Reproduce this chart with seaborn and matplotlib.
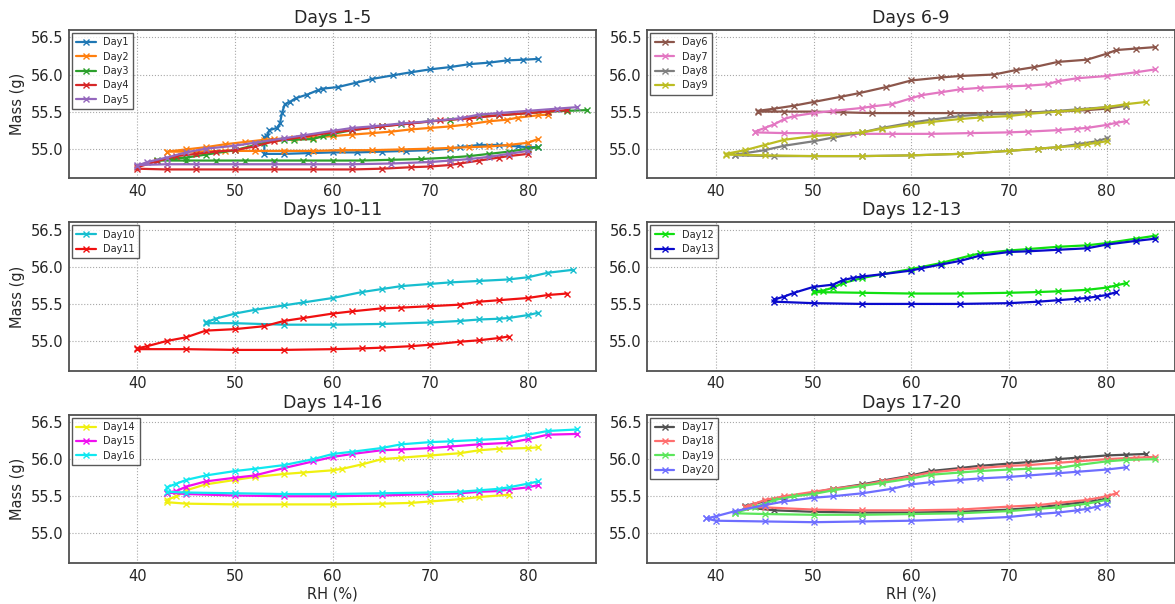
import numpy as np
import pandas as pd
import matplotlib
matplotlib.use("Agg")
import matplotlib.pyplot as plt
import seaborn as sns

# ---------------- data (each day: descending-RH branch, then ascending-RH branch) ----------------
day1_rh = [81, 79.5, 77.8, 76, 74, 72, 70, 68, 66.2, 64, 62.4, 60.5, 59, 58.5, 57.4, 56.2, 55.6, 55.1, 54.8, 54.6, 54.3, 53.5, 53.3, 53,
           53, 55, 57.5, 60, 62.5, 65, 67.5, 70, 72, 73, 75, 77, 79, 80, 81]
day1_mass = [56.21, 56.2, 56.19, 56.16, 56.14, 56.1, 56.07, 56.03, 55.99, 55.94, 55.89, 55.83, 55.81, 55.79, 55.73, 55.68, 55.63, 55.60, 55.48, 55.34, 55.28, 55.25, 55.17, 55.16,
             54.93, 54.93, 54.94, 54.95, 54.95, 54.96, 54.97, 54.98, 55.0, 55.02, 55.05, 55.05, 55.03, 55.02, 55.02]
day2_rh = [82, 81, 79, 77.8, 76, 74, 72, 70, 68, 66, 64, 62, 60, 58, 56, 54, 53, 51, 49, 47, 45, 43,
           43, 46, 49, 52, 55, 58, 61, 64, 67, 70, 72, 74, 76, 78, 80, 81]
day2_mass = [55.46, 55.45, 55.42, 55.39, 55.37, 55.33, 55.3, 55.28, 55.26, 55.23, 55.21, 55.19, 55.17, 55.15, 55.14, 55.13, 55.12, 55.09, 55.06, 55.02, 54.99, 54.96,
             54.96, 54.96, 54.97, 54.97, 54.97, 54.97, 54.98, 54.98, 54.99, 55.0, 55.01, 55.02, 55.03, 55.05, 55.08, 55.13]
day3_rh = [86, 84, 82, 80, 77, 75, 72, 70, 67, 65, 62, 60, 59, 58, 56, 55, 53, 50, 47, 45, 42,
           42, 45, 48, 51, 54, 57, 60, 63, 66, 69, 72, 74, 76, 78, 80, 81]
day3_mass = [55.52, 55.51, 55.5, 55.48, 55.45, 55.43, 55.39, 55.37, 55.33, 55.3, 55.25, 55.2, 55.17, 55.13, 55.12, 55.12, 55.08, 54.98, 54.92, 54.88, 54.85,
             54.84, 54.84, 54.84, 54.84, 54.84, 54.84, 54.84, 54.84, 54.85, 54.86, 54.88, 54.9, 54.93, 54.96, 55.0, 55.02]
day4_rh = [84, 82, 80, 77, 74, 71, 68, 65, 62, 60, 57, 54, 52, 50, 48, 46, 44, 42, 40,
           40, 43, 46, 50, 54, 58, 62, 65, 68, 70, 72, 73, 75, 77, 78, 80]
day4_mass = [55.52, 55.5, 55.48, 55.45, 55.41, 55.38, 55.34, 55.3, 55.25, 55.22, 55.16, 55.1, 55.03, 54.98, 54.96, 54.93, 54.9, 54.83, 54.75,
             54.73, 54.72, 54.72, 54.72, 54.72, 54.72, 54.72, 54.73, 54.75, 54.76, 54.78, 54.8, 54.84, 54.88, 54.9, 54.93]
day5_rh = [85, 83, 80, 77, 75, 73, 70, 67, 64, 62, 60, 57, 55, 52, 50, 47, 45, 43, 41, 40,
           40, 43, 46, 50, 54, 58, 62, 66, 70, 72, 74, 76, 78, 80]
day5_mass = [55.56, 55.54, 55.51, 55.48, 55.46, 55.41, 55.37, 55.34, 55.3, 55.28, 55.24, 55.18, 55.14, 55.08, 55.04, 55.0, 54.95, 54.88, 54.82, 54.77,
             54.78, 54.79, 54.79, 54.79, 54.79, 54.79, 54.79, 54.8, 54.82, 54.84, 54.86, 54.89, 54.93, 54.97]

day6_rh = [85, 83, 81, 80, 78, 75, 72.6, 70.7, 68.5, 65, 63, 60, 57.4, 54.7, 52.8, 50, 48, 46, 44.3,
           44.3, 47, 50, 53, 56, 60, 64, 68, 72, 75, 78, 80, 82]
day6_mass = [56.37, 56.35, 56.33, 56.28, 56.2, 56.17, 56.1, 56.06, 56.0, 55.98, 55.96, 55.92, 55.83, 55.75, 55.7, 55.63, 55.58, 55.54, 55.51,
             55.5, 55.5, 55.5, 55.49, 55.48, 55.48, 55.48, 55.48, 55.49, 55.5, 55.52, 55.54, 55.58]
day7_rh = [85, 83, 80, 77, 75, 74, 72, 70, 67, 65, 63, 61, 60, 58, 56, 55, 52, 50, 48, 47, 46, 45, 44,
           44, 47, 50, 54, 58, 62, 66, 70, 72, 75, 77, 78, 80, 81, 82]
day7_mass = [56.07, 56.03, 55.98, 55.95, 55.91, 55.87, 55.85, 55.84, 55.82, 55.8, 55.76, 55.72, 55.68, 55.6, 55.57, 55.55, 55.51, 55.48, 55.44, 55.4, 55.33, 55.28, 55.23,
             55.22, 55.21, 55.21, 55.2, 55.2, 55.2, 55.21, 55.22, 55.23, 55.25, 55.27, 55.28, 55.32, 55.35, 55.37]
day8_rh = [82, 80, 77, 74, 70, 67, 65, 62, 60, 57, 55, 52, 50, 47, 45, 43, 42,
           42, 46, 50, 55, 60, 65, 70, 73, 75, 77, 79, 80]
day8_mass = [55.58, 55.56, 55.53, 55.5, 55.47, 55.46, 55.44, 55.39, 55.35, 55.28, 55.22, 55.15, 55.1, 55.04, 54.98, 54.94, 54.92,
             54.91, 54.9, 54.9, 54.9, 54.91, 54.93, 54.97, 55.0, 55.02, 55.06, 55.1, 55.14]
day9_rh = [84, 82, 80, 77, 75, 72, 70, 67, 65, 62, 60, 57, 55, 52, 50, 47, 45, 43, 41,
           41, 45, 50, 55, 60, 65, 70, 73, 75, 77, 78, 79, 80]
day9_mass = [55.63, 55.6, 55.56, 55.52, 55.5, 55.47, 55.44, 55.42, 55.4, 55.36, 55.33, 55.27, 55.22, 55.19, 55.17, 55.12, 55.05, 54.98, 54.93,
             54.92, 54.91, 54.9, 54.9, 54.91, 54.93, 54.97, 55.0, 55.02, 55.04, 55.06, 55.08, 55.1]

day10_rh = [84.6, 82, 80, 78, 75, 72, 70, 67, 65, 63, 60, 57, 55, 52, 50, 48, 47,
            47, 50, 55, 60, 65, 70, 73, 75, 77, 78, 80, 81]
day10_mass = [55.96, 55.92, 55.86, 55.83, 55.81, 55.79, 55.77, 55.74, 55.7, 55.66, 55.58, 55.52, 55.48, 55.42, 55.37, 55.3, 55.25,
              55.24, 55.24, 55.22, 55.22, 55.23, 55.25, 55.27, 55.29, 55.3, 55.31, 55.35, 55.38]
day11_rh = [84, 82, 80, 77, 75, 73, 70, 67, 65, 62, 60, 57, 55, 53, 50, 47, 45, 43, 41, 40,
            40, 45, 50, 55, 60, 63, 65, 68, 70, 73, 75, 77, 78]
day11_mass = [55.64, 55.62, 55.58, 55.55, 55.53, 55.49, 55.47, 55.45, 55.44, 55.4, 55.37, 55.31, 55.27, 55.2, 55.16, 55.14, 55.05, 55.0, 54.93, 54.9,
              54.89, 54.89, 54.88, 54.88, 54.89, 54.9, 54.91, 54.93, 54.95, 54.99, 55.01, 55.04, 55.06]

day12_rh = [85, 83, 80, 78, 75, 72, 70, 67, 66, 63, 60, 57, 55, 53, 52, 51, 50,
            50, 55, 60, 65, 70, 73, 75, 78, 80, 81, 82]
day12_mass = [56.42, 56.38, 56.32, 56.29, 56.27, 56.24, 56.22, 56.18, 56.15, 56.05, 55.97, 55.9, 55.85, 55.78, 55.72, 55.68, 55.67,
              55.66, 55.65, 55.64, 55.64, 55.65, 55.66, 55.67, 55.69, 55.72, 55.75, 55.78]
day13_rh = [85, 83, 80, 78, 75, 72, 70, 67, 65, 63, 61, 60, 57, 55, 54, 53, 52, 50, 48, 47, 46,
            46, 50, 55, 60, 65, 70, 73, 75, 77, 78, 79, 80, 81]
day13_mass = [56.38, 56.35, 56.3, 56.25, 56.23, 56.21, 56.2, 56.15, 56.08, 56.03, 55.98, 55.95, 55.9, 55.87, 55.85, 55.82, 55.76, 55.73, 55.65, 55.6, 55.56,
              55.53, 55.51, 55.5, 55.5, 55.5, 55.51, 55.53, 55.55, 55.57, 55.58, 55.6, 55.62, 55.66]

day14_rh = [81, 80, 77, 75, 73, 70, 67, 65, 63, 61, 60, 57, 55, 52, 50, 47, 45, 44, 43,
            43, 45, 50, 55, 60, 65, 68, 70, 73, 75, 78]
day14_mass = [56.16, 56.15, 56.14, 56.12, 56.08, 56.05, 56.02, 56.0, 55.93, 55.87, 55.85, 55.82, 55.8, 55.76, 55.72, 55.66, 55.58, 55.5, 55.45,
              55.42, 55.4, 55.39, 55.39, 55.39, 55.4, 55.41, 55.43, 55.46, 55.49, 55.52]
day15_rh = [85, 82, 80, 78, 75, 72, 70, 67, 65, 62, 60, 58, 55, 52, 50, 47, 45, 44, 43,
            43, 45, 50, 55, 60, 65, 70, 73, 75, 77, 78, 80, 81]
day15_mass = [56.34, 56.33, 56.27, 56.22, 56.2, 56.17, 56.15, 56.13, 56.12, 56.07, 56.03, 55.97, 55.88, 55.78, 55.75, 55.7, 55.63, 55.57, 55.55,
              55.55, 55.53, 55.51, 55.5, 55.5, 55.51, 55.53, 55.54, 55.56, 55.57, 55.59, 55.62, 55.65]
day16_rh = [85, 82, 80, 78, 75, 72, 70, 67, 65, 62, 60, 58, 55, 52, 50, 47, 45, 44, 43,
            43, 45, 50, 55, 60, 65, 70, 73, 75, 77, 78, 80, 81]
day16_mass = [56.4, 56.38, 56.33, 56.28, 56.26, 56.24, 56.23, 56.2, 56.15, 56.1, 56.07, 56.0, 55.92, 55.87, 55.84, 55.78, 55.72, 55.67, 55.62,
              55.56, 55.55, 55.54, 55.53, 55.53, 55.54, 55.55, 55.56, 55.58, 55.6, 55.62, 55.67, 55.7]

day17_rh = [84, 82, 80, 77, 75, 72, 70, 67, 65, 62, 60, 57, 55, 52, 50, 47, 45, 43,
            43, 46, 50, 55, 60, 65, 70, 73, 75, 77, 79, 80]
day17_mass = [56.07, 56.06, 56.05, 56.02, 56.0, 55.96, 55.94, 55.91, 55.88, 55.84, 55.78, 55.71, 55.66, 55.6, 55.55, 55.48, 55.43, 55.37,
              55.35, 55.31, 55.29, 55.28, 55.28, 55.29, 55.32, 55.35, 55.38, 55.41, 55.44, 55.47]
day18_rh = [85, 83, 80, 77, 75, 72, 70, 67, 65, 62, 60, 57, 55, 52, 50, 47, 45, 44, 43,
            43, 45, 50, 55, 60, 65, 70, 73, 75, 78, 80, 81]
day18_mass = [56.03, 56.02, 56.0, 55.97, 55.95, 55.92, 55.91, 55.88, 55.86, 55.82, 55.77, 55.7, 55.65, 55.6, 55.56, 55.5, 55.45, 55.4, 55.36,
              55.35, 55.35, 55.32, 55.31, 55.31, 55.32, 55.36, 55.38, 55.41, 55.45, 55.5, 55.54]
day19_rh = [85, 82, 80, 77, 75, 72, 70, 67, 65, 62, 60, 57, 55, 52, 50, 48, 46, 44, 42,
            42, 45, 50, 55, 60, 65, 70, 73, 75, 78, 80]
day19_mass = [56.0, 55.99, 55.97, 55.92, 55.88, 55.87, 55.86, 55.84, 55.82, 55.79, 55.74, 55.68, 55.64, 55.58, 55.53, 55.5, 55.45, 55.35, 55.28,
              55.27, 55.26, 55.25, 55.25, 55.26, 55.27, 55.3, 55.33, 55.35, 55.4, 55.45]
day20_rh = [82, 80, 77, 75, 72, 70, 67, 65, 62, 60, 58, 55, 52, 50, 47, 45, 42, 40, 39,
            39, 40, 45, 50, 55, 60, 65, 70, 73, 75, 77, 78, 79, 80]
day20_mass = [55.89, 55.86, 55.83, 55.81, 55.78, 55.76, 55.74, 55.72, 55.69, 55.66, 55.6, 55.54, 55.5, 55.48, 55.43, 55.38, 55.3, 55.23, 55.2,
              55.2, 55.17, 55.16, 55.15, 55.16, 55.17, 55.19, 55.22, 55.26, 55.28, 55.31, 55.33, 55.36, 55.4]

panel_titles = ["Days 1-5", "Days 6-9", "Days 10-11", "Days 12-13", "Days 14-16", "Days 17-20"]
panel_days = [[1, 2, 3, 4, 5], [6, 7, 8, 9], [10, 11], [12, 13], [14, 15, 16], [17, 18, 19, 20]]
x_ticks = [40, 50, 60, 70, 80]
y_ticks = [55.0, 55.5, 56.0, 56.5]

day_data = {
    1: (day1_rh, day1_mass), 2: (day2_rh, day2_mass), 3: (day3_rh, day3_mass), 4: (day4_rh, day4_mass),
    5: (day5_rh, day5_mass), 6: (day6_rh, day6_mass), 7: (day7_rh, day7_mass), 8: (day8_rh, day8_mass),
    9: (day9_rh, day9_mass), 10: (day10_rh, day10_mass), 11: (day11_rh, day11_mass), 12: (day12_rh, day12_mass),
    13: (day13_rh, day13_mass), 14: (day14_rh, day14_mass), 15: (day15_rh, day15_mass), 16: (day16_rh, day16_mass),
    17: (day17_rh, day17_mass), 18: (day18_rh, day18_mass), 19: (day19_rh, day19_mass), 20: (day20_rh, day20_mass),
}

day_colors = {
    1: "#1f77b4", 2: "#ff7f0e", 3: "#2ca02c", 4: "#d62728", 5: "#9467bd",
    6: "#8c564b", 7: "#e377c2", 8: "#7f7f7f", 9: "#bcbd22",
    10: "#17becf", 11: "#f01010",
    12: "#10e010", 13: "#0a0acc",
    14: "#f0f010", 15: "#f010f0", 16: "#10e8f0",
    17: "#505050", 18: "#ff6e6e", 19: "#5ce65c", 20: "#6e6eff",
}

# ---------------- style ----------------
sns.set_style("whitegrid", {
    "grid.linestyle": ":",
    "grid.color": "#a8a8a8",
    "axes.edgecolor": "#505050",
    "xtick.direction": "in",
    "ytick.direction": "in",
})
plt.rcParams["font.family"] = ["DejaVu Sans"]
plt.rcParams["axes.linewidth"] = 1.3

fig, axes = plt.subplots(3, 2, figsize=(11.75, 6.04), dpi=100, sharex=False, sharey=False)
fig.subplots_adjust(left=0.0587, right=1.0, bottom=0.0679, top=0.9503, wspace=0.0967, hspace=0.2966)

for idx, ax in enumerate(axes.flat):
    for d in panel_days[idx]:
        rh, mass = day_data[d]
        c = day_colors[d]
        sns.lineplot(x=rh, y=mass, ax=ax, sort=False, estimator=None, color=c,
                     linewidth=1.6, marker="x", markersize=5, markeredgecolor=c,
                     markeredgewidth=1.0, label=f"Day{d}")
    ax.set_xlim(33, 87)
    ax.set_ylim(54.6, 56.6)
    ax.set_xticks(x_ticks)
    ax.set_yticks(y_ticks)
    ax.set_yticklabels([f"{v:.1f}" for v in y_ticks])
    ax.tick_params(axis="both", labelsize=10.5, length=4, width=0.8, color="#505050", pad=4)
    ax.grid(True, linestyle=":", color="#a8a8a8", linewidth=0.8)
    ax.set_title(panel_titles[idx], fontsize=12.5, pad=5)
    row, col = divmod(idx, 2)
    ax.set_ylabel("Mass (g)" if col == 0 else "", fontsize=10.5)
    ax.set_xlabel("RH (%)" if row == 2 else "", fontsize=10.5, labelpad=2)
    leg = ax.legend(loc="upper left", fontsize=7, frameon=True, fancybox=False,
                    borderaxespad=0.3, handlelength=2.0, labelspacing=0.45, borderpad=0.45)
    leg.get_frame().set_edgecolor("#303030")
    leg.get_frame().set_linewidth(1.0)
    for sp in ax.spines.values():
        sp.set_color("#505050")
        sp.set_linewidth(1.3)

fig.savefig("out.png", dpi=100)
